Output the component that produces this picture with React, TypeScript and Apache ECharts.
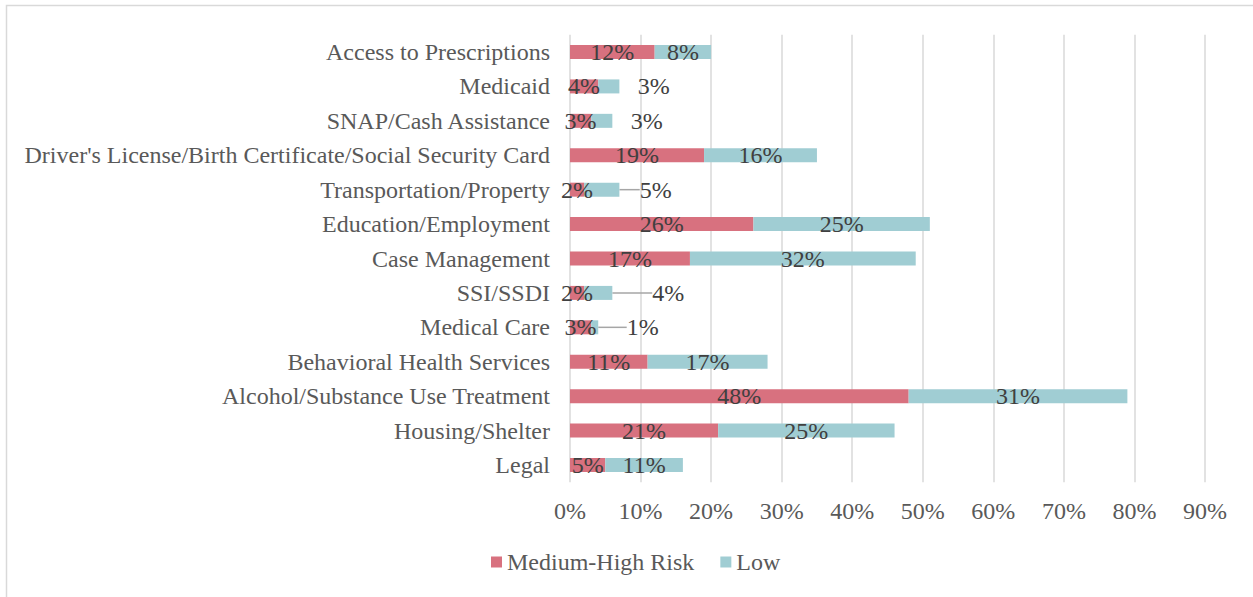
import React, { useEffect, useRef } from "react";
import * as echarts from "echarts";

const categories = [
  "Access to Prescriptions",
  "Medicaid",
  "SNAP/Cash Assistance",
  "Driver's License/Birth Certificate/Social Security Card",
  "Transportation/Property",
  "Education/Employment",
  "Case Management",
  "SSI/SSDI",
  "Medical Care",
  "Behavioral Health Services",
  "Alcohol/Substance Use Treatment",
  "Housing/Shelter",
  "Legal",
];
const mediumHigh = [12, 4, 3, 19, 2, 26, 17, 2, 3, 11, 48, 21, 5];
const low = [8, 3, 3, 16, 5, 25, 32, 4, 1, 17, 31, 25, 11];
const xTicks = [0, 10, 20, 30, 40, 50, 60, 70, 80, 90];
const seriesNames = ["Medium-High Risk", "Low"];

// label callouts for small "Low" values (horizontal shift in px, whether a leader line is drawn)
const lowCallouts: Record<string, { dx: number; line: boolean }> = {
  Medicaid: { dx: 45, line: false },
  "SNAP/Cash Assistance": { dx: 45, line: false },
  "Transportation/Property": { dx: 54, line: true },
  "SSI/SSDI": { dx: 70, line: true },
  "Medical Care": { dx: 48, line: true },
};

const FONT = "'Liberation Serif', 'Times New Roman', serif";
const FS = 24;

export default function App() {
  const ref = useRef<HTMLDivElement>(null);
  useEffect(() => {
    if (!ref.current) return;
    const chart = echarts.init(ref.current, null, { renderer: "svg" });
    const lowData = low.map((v, i) => {
      const c = lowCallouts[categories[i]];
      return c && c.line ? { value: v, labelLine: { show: true } } : { value: v };
    });
    chart.setOption({
      animation: false,
      backgroundColor: "#ffffff",
      textStyle: { fontFamily: FONT },
      graphic: [
        {
          type: "rect",
          shape: { x: 6.5, y: 5.5, width: 1260, height: 620 },
          style: { fill: "none", stroke: "#d9d9d9", lineWidth: 1.5 },
          silent: true,
        },
      ],
      legend: {
        left: 491,
        top: 550,
        padding: 0,
        itemWidth: 11,
        itemHeight: 11,
        itemGap: 26,
        icon: "rect",
        textStyle: { fontFamily: FONT, fontSize: FS, color: "#595959" },
        data: seriesNames,
      },
      grid: { left: 570, right: 48, top: 34.8, bottom: 114.8, containLabel: false },
      xAxis: {
        type: "value",
        min: xTicks[0],
        max: xTicks[xTicks.length - 1],
        interval: 10,
        axisLine: { show: false },
        axisTick: { show: false },
        axisLabel: {
          formatter: "{value}%",
          fontFamily: FONT,
          fontSize: FS,
          color: "#595959",
          margin: 17,
        },
        splitLine: { show: true, lineStyle: { color: "#d9d9d9", width: 1.5 } },
      },
      yAxis: {
        type: "category",
        inverse: true,
        data: categories,
        axisLine: { show: false },
        axisTick: { show: false },
        axisLabel: {
          fontFamily: FONT,
          fontSize: FS,
          color: "#595959",
          margin: 20,
        },
      },
      series: [
        {
          name: seriesNames[0],
          type: "bar",
          stack: "total",
          barWidth: 14,
          itemStyle: { color: "#d8717f" },
          label: {
            show: true,
            position: "inside",
            formatter: "{c}%",
            fontFamily: FONT,
            fontSize: FS,
            color: "#404040",
          },
          data: mediumHigh,
        },
        {
          name: seriesNames[1],
          type: "bar",
          stack: "total",
          barWidth: 14,
          itemStyle: { color: "#a0cdd3" },
          label: {
            show: true,
            position: "inside",
            formatter: "{c}%",
            fontFamily: FONT,
            fontSize: FS,
            color: "#404040",
          },
          labelLine: {
            show: false,
            lineStyle: { color: "#a6a6a6", width: 1.5 },
          },
          labelLayout: (params: any) => {
            const c = lowCallouts[categories[params.dataIndex]];
            return c ? { dx: c.dx } : {};
          },
          data: lowData,
        },
      ],
    });
    return () => chart.dispose();
  }, []);
  return (
    <div
      ref={ref}
      style={{ position: "fixed", left: 0, top: 0, width: 1253, height: 597 }}
    />
  );
}
